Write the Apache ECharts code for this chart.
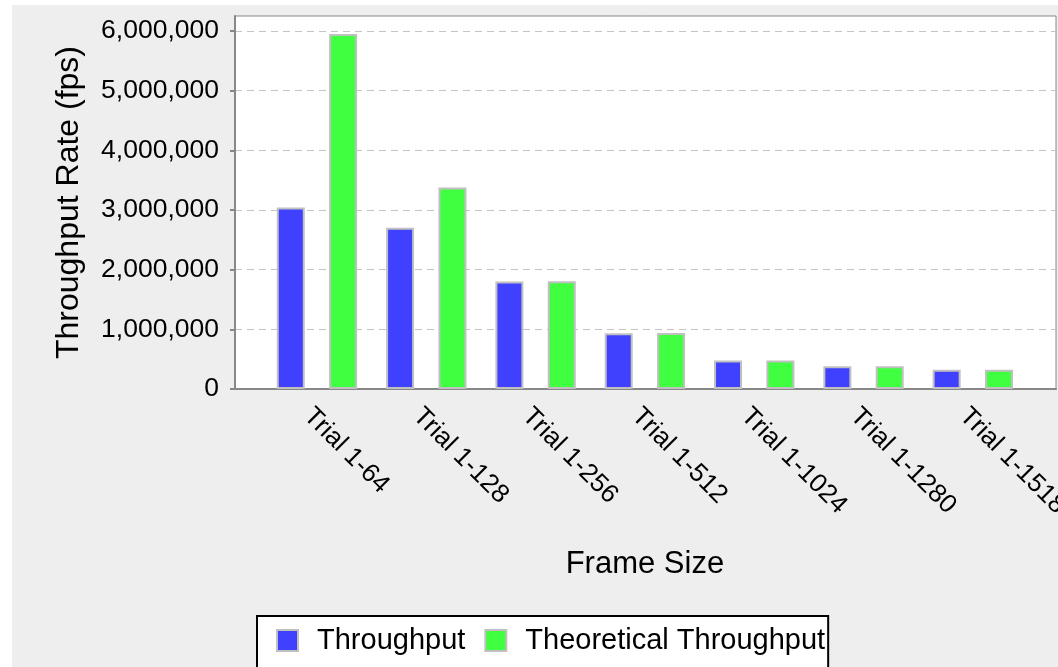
<!DOCTYPE html>
<html>
<head>
<meta charset="utf-8">
<script src="https://cdn.jsdelivr.net/npm/echarts@6/dist/echarts.min.js"></script>
<style>
html,body{margin:0;padding:0;background:#ffffff;}
#bg{position:absolute;left:12px;top:5px;width:1046px;height:662px;background:#eeeeee;}
#chart{position:absolute;left:0;top:0;width:1058px;height:667px;}
</style>
</head>
<body>
<div id="bg"></div>
<div id="chart"></div>
<script>
const categories = ['Trial 1-64','Trial 1-128','Trial 1-256','Trial 1-512','Trial 1-1024','Trial 1-1280','Trial 1-1518'];
const throughput = [3040000, 2700000, 1800000, 935000, 476000, 380000, 322000];
const theoretical = [5950000, 3375000, 1805000, 938000, 478000, 382000, 324000];
const yTicks = [0, 1000000, 2000000, 3000000, 4000000, 5000000, 6000000];
const seriesNames = ['Throughput', 'Theoretical Throughput'];

const FONT = 'Liberation Sans, Arial, sans-serif';
const chart = echarts.init(document.getElementById('chart'), null, {renderer: 'canvas'});
const fmt = v => v.toLocaleString('en-US');

chart.setOption({
  backgroundColor: 'transparent',
  animation: false,
  textStyle: {fontFamily: FONT},
  grid: [
    {left: 235, top: 16, right: 2, bottom: 278, show: true, backgroundColor: '#ffffff', borderColor: '#888888', borderWidth: 1, containLabel: false, outerBoundsMode: 'none'},
    {left: 262.3, top: 16, right: 30.5, bottom: 278, containLabel: false, outerBoundsMode: 'none'}
  ],
  xAxis: [
    {type: 'category', gridIndex: 0, data: ['a'], axisLine: {show: true, lineStyle: {color: '#888888', width: 2}}, axisTick: {show: false}, axisLabel: {show: false}, splitLine: {show: false}},
    {type: 'category', gridIndex: 1, data: categories, axisLine: {show: false}, axisTick: {show: false},
     axisLabel: {interval: 0, rotate: -45, fontSize: 26, color: '#000', fontFamily: FONT, margin: 14, align: 'left', verticalAlign: 'top'},
     name: 'Frame Size', nameLocation: 'middle', nameGap: 160, nameTextStyle: {fontSize: 31, color: '#000', fontFamily: FONT}}
  ],
  yAxis: [
    {type: 'value', gridIndex: 0, min: 0, max: 6250000, interval: 1000000,
     axisLine: {show: true, lineStyle: {color: '#888888', width: 2}},
     axisTick: {show: true, length: 5, lineStyle: {color: '#888888', width: 2}, customValues: yTicks},
     axisLabel: {fontSize: 26.5, color: '#000', fontFamily: FONT, margin: 16, customValues: yTicks, formatter: v => fmt(v)},
     splitLine: {show: true, lineStyle: {color: '#c4c4c4', type: [7, 5], width: 1.2}},
     name: 'Throughput Rate (fps)', nameLocation: 'middle', nameGap: 150, nameTextStyle: {fontSize: 32, color: '#000', fontFamily: FONT}},
    {type: 'value', gridIndex: 1, min: 0, max: 6250000, interval: 1000000, show: false, splitLine: {show: false}}
  ],
  legend: {
    left: 257, top: 616, orient: 'horizontal',
    data: seriesNames,
    backgroundColor: '#ffffff', borderColor: '#000000', borderWidth: 2,
    padding: [10, 3, 30, 19],
    itemWidth: 21, itemHeight: 21, itemGap: 19,
    icon: 'rect',
    itemStyle: {borderColor: '#c0c0c0', borderWidth: 2},
    textStyle: {fontSize: 29, color: '#000', fontFamily: FONT, padding: [3, 0, 0, 14]}
  },
  series: [
    {name: seriesNames[0], type: 'bar', xAxisIndex: 1, yAxisIndex: 1, data: throughput, barWidth: 28, barGap: '87%',
     itemStyle: {color: '#4040ff', borderColor: '#c0c0c0', borderWidth: 2}},
    {name: seriesNames[1], type: 'bar', xAxisIndex: 1, yAxisIndex: 1, data: theoretical, barWidth: 28, barGap: '87%',
     itemStyle: {color: '#40ff40', borderColor: '#c0c0c0', borderWidth: 2}}
  ]
});
</script>
</body>
</html>
